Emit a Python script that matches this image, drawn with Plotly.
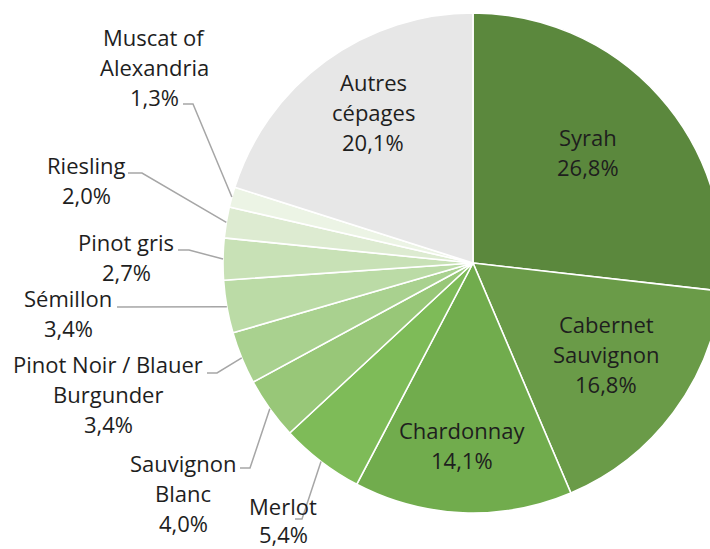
import math
import plotly.graph_objects as go

# ---- data ----
labels = ["Syrah", "Cabernet Sauvignon", "Chardonnay", "Merlot", "Sauvignon Blanc",
          "Pinot Noir / Blauer Burgunder", "Sémillon", "Pinot gris", "Riesling",
          "Muscat of Alexandria", "Autres cépages"]
values = [26.8, 16.8, 14.1, 5.4, 4.0, 3.4, 3.4, 2.7, 2.0, 1.3, 20.1]
label_lines = [["Syrah"], ["Cabernet", "Sauvignon"], ["Chardonnay"], ["Merlot"],
               ["Sauvignon", "Blanc"], ["Pinot Noir / Blauer", "Burgunder"], ["Sémillon"],
               ["Pinot gris"], ["Riesling"], ["Muscat of", "Alexandria"], ["Autres", "cépages"]]
colors = ["#5B883D", "#6A9B48", "#71AC4D", "#7EBB58", "#98C778", "#A9D18F",
          "#BBDBA6", "#C8E1B6", "#DDEBD1", "#ECF4E5", "#E7E7E7"]

# ---- layout (pixels) ----
W, H = 724, 549
CX, CY, R = 473, 263, 250
# label block centres (pixels) and line spacing
label_pos = [(588, 152), (606, 354), (462, 445), (283, 520), (183, 493),
             (108, 394), (68, 313), (126, 257), (86, 180), (154, 67), (373, 112)]
line_gap = [30, 30, 30, 28, 30, 30, 30, 30, 30, 30, 30]
# leader lines: (text end point, elbow) for outside labels; None for inside
leaders = [None, None, None,
           ((295, 519), (302, 519)),
           ((240, 468), (250, 468)),
           ((207, 373), (217, 373)),
           ((117, 307), (118, 307)),
           ((178, 250), (189, 250)),
           ((128, 173), (142, 173)),
           ((183, 104), (193, 104)),
           None]

def px(x):
    return x / W

def py(y):
    return 1 - y / H

fig = go.Figure(go.Pie(
    labels=labels, values=values, sort=False, direction="clockwise", rotation=0,
    marker=dict(colors=colors, line=dict(color="white", width=1.6)),
    textinfo="none", hoverinfo="label+percent", showlegend=False,
    domain=dict(x=[px(CX - R), px(CX + R)], y=[py(CY + R), py(CY - R)]),
))

total = sum(values)
cum = 0.0
annotations = []
shapes = []
for i, v in enumerate(values):
    mid = (cum + v / 2) / total * 2 * math.pi
    cum += v
    pct = f"{v:.1f}".replace(".", ",") + "%"
    lines = label_lines[i] + [pct]
    lx, ly = label_pos[i]
    n = len(lines)
    for k, t in enumerate(lines):
        yy = ly + (k - (n - 1) / 2) * line_gap[i]
        annotations.append(dict(
            x=px(lx), y=py(yy), xref="paper", yref="paper", showarrow=False,
            text=t, xanchor="center", yanchor="middle",
            font=dict(family="Open Sans", size=22, color="#1E1E1E"),
        ))
    if leaders[i] is not None:
        ex = CX + R * math.sin(mid)
        ey = CY - R * math.cos(mid)
        (tx, ty), (bx, by) = leaders[i]
        path = f"M {px(tx)} {py(ty)} L {px(bx)} {py(by)} L {px(ex)} {py(ey)}"
        shapes.append(dict(type="path", xref="paper", yref="paper", path=path,
                           line=dict(color="#A6A6A6", width=1.5)))

fig.update_layout(
    width=W, height=H, margin=dict(l=0, r=0, t=0, b=0),
    paper_bgcolor="white", plot_bgcolor="white",
    annotations=annotations, shapes=shapes,
)

fig.write_html("out.html", config={"displayModeBar": False},
               post_script="document.body.style.margin='0';document.body.style.overflow='hidden';")
